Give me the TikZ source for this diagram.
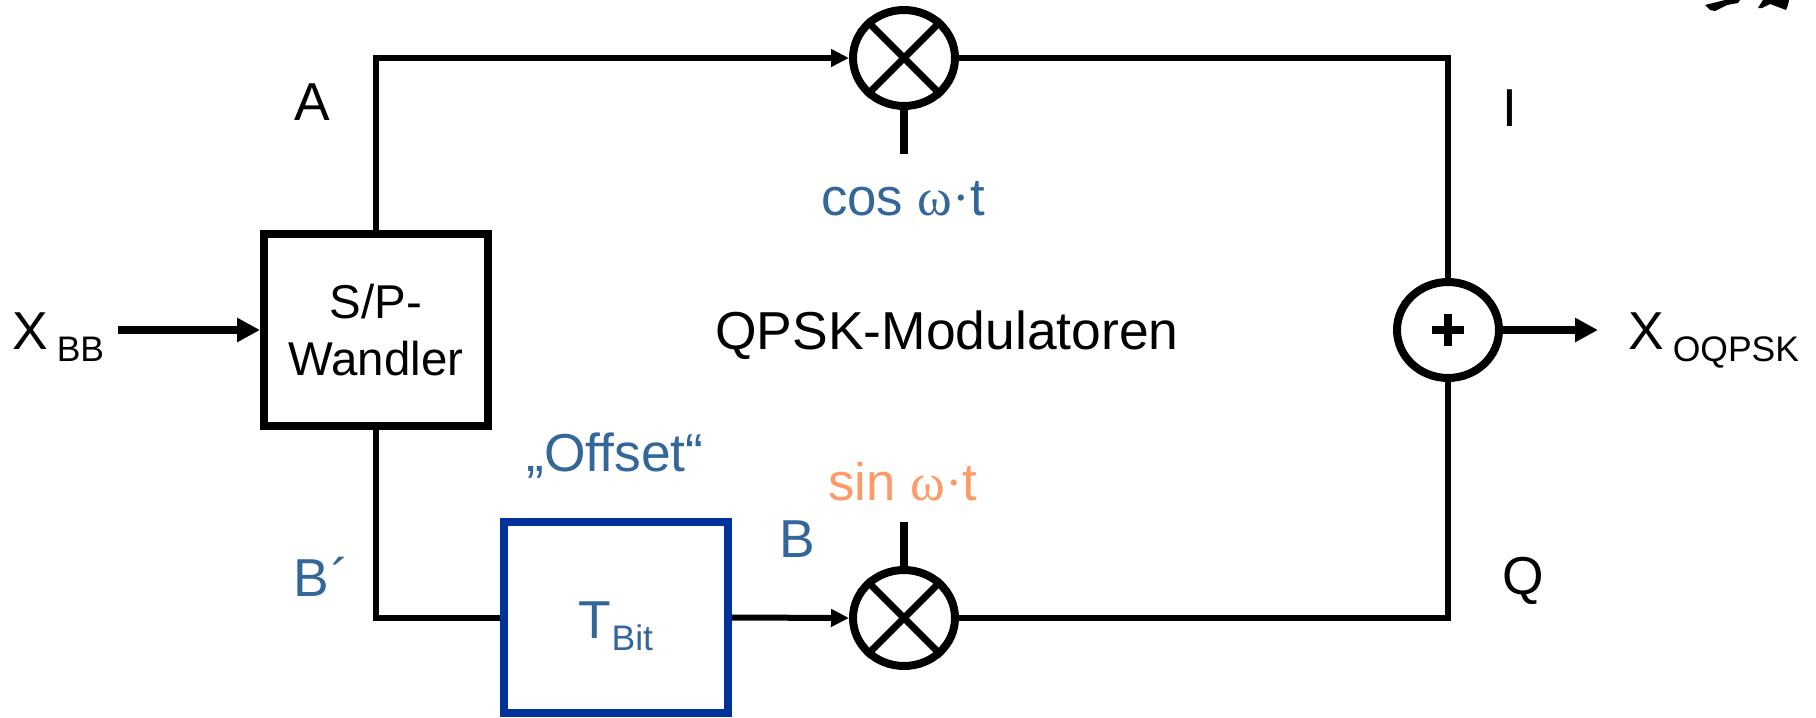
\documentclass[tikz,border=0pt]{standalone}
\usepackage{fontspec}
\setmainfont{Liberation Sans}
\newfontfamily\symbfont{Liberation Serif}
\usetikzlibrary{arrows.meta,positioning,shapes.geometric}
\definecolor{labelblue}{HTML}{336699}
\definecolor{boxblue}{HTML}{003399}
\definecolor{labelorange}{HTML}{FF9966}
\newcommand{\txt}[1]{\fontsize{#1}{1.22\dimexpr #1pt\relax}\selectfont}
\newcommand{\subtxt}[1]{\raisebox{-7.2pt}{\txt{20.2}#1}}
\tikzset{
  block/.style={draw,line width=0.16cm,rectangle,inner sep=0pt,align=center,font=\txt{27}},
  mixer/.style={draw,line width=0.16cm,ellipse,minimum width=2.04cm,minimum height=1.92cm,inner sep=0pt,fill=white},
  wire/.style={line width=0.12cm},
  stem/.style={line width=0.16cm},
  lbl/.style={inner sep=0pt,font=\txt{30.4}},
  carrier/.style={inner sep=0pt,font=\txt{30}},
  smalltip/.style={-{Triangle[length=0.36cm,width=0.34cm]}},
  bigtip/.style={-{Triangle[length=0.46cm,width=0.46cm]}},
}
\begin{document}
\begin{tikzpicture}[x=0.02cm,y=-0.02cm,>=Latex]
  \useasboundingbox (0,0) rectangle (1816,717);
  % blocks
  \node[block,minimum width=4.48cm,minimum height=3.84cm] (sp) at (376,330) {S/P-\\Wandler};
  \node[block,draw=boxblue,minimum width=4.48cm,minimum height=3.82cm] (tbit) at (616,617.5) {};
  \node[mixer] (mixA) at (904,58) {};
  \node[mixer] (mixB) at (904,618) {};
  \node[mixer] (sumIQ) at (1448,330) {};
  % crosses
  \foreach \m in {mixA,mixB} {
    \draw[line width=0.14cm] (\m.45) -- (\m.225);
    \draw[line width=0.14cm] (\m.135) -- (\m.315);
  }
  \draw[stem] ([xshift=-0.32cm]sumIQ.center) -- ([xshift=0.32cm]sumIQ.center);
  \draw[stem] ([yshift=-0.32cm]sumIQ.center) -- ([yshift=0.32cm]sumIQ.center);
  % labels
  \node[lbl,anchor=base west] (xbb) at (12,349) {X\hspace{5pt}\subtxt{BB}};
  \node[lbl,anchor=base west] (xout) at (1628,349) {X\hspace{5pt}\subtxt{OQPSK}};
  \coordinate (xbbend) at (118,330);
  \coordinate (xoutend) at (1598,330);
  \coordinate (stemA) at (904,154);
  \coordinate (stemB) at (904,522);
  \node[lbl,anchor=base,text=labelblue] (ltbit) at (616,638) {T\subtxt{Bit}};
  \node[lbl,anchor=base] (lA) at (312,120) {A};
  \node[lbl,anchor=base west,text=labelblue] (lBb) at (293,596) {B\hspace{1.7pt}´};
  \node[lbl,anchor=base,text=labelblue] (lB) at (797,557) {B};
  \node[lbl,anchor=base] (lI) at (1510,126) {I};
  \node[lbl,anchor=base] (lQ) at (1523,594) {Q};
  \node[carrier,anchor=base,text=labelblue] (lcos) at (903,215) {cos {\symbfont ω·}t};
  \node[carrier,anchor=base,text=labelorange] (lsin) at (903,500) {sin {\symbfont ω·}t};
  \node[lbl,anchor=base,text=labelblue] (loff) at (615,471) {„Offset“};
  \node[lbl,anchor=base] (ltitle) at (947,349) {QPSK-Modulatoren};
  % connections
  \draw[wire,smalltip] (sp.north) |- (mixA.west);
  \draw[wire] (sp.south) |- (tbit.west);
  \draw[wire,smalltip] (tbit.east) -- (mixB.west);
  \draw[wire] (mixA.east) -| (sumIQ.north);
  \draw[wire] (mixB.east) -| (sumIQ.south);
  \draw[stem] (mixA.south) -- (stemA);
  \draw[stem] (mixB.north) -- (stemB);
  \draw[stem,bigtip] (xbbend) -- (sp.west);
  \draw[stem,bigtip] (sumIQ.east) -- (xoutend);
  % scribble at the top edge
  \fill (1705,5) -- (1725,0) -- (1740,0) -- (1738,3) -- (1727,5) -- (1715,11) -- (1710,10) -- cycle;
  \fill (1758,8) -- (1763,0) -- (1789,0) -- (1788,5) -- (1786,10) -- (1770,4) -- (1762,8) -- cycle;
\end{tikzpicture}
\end{document}
